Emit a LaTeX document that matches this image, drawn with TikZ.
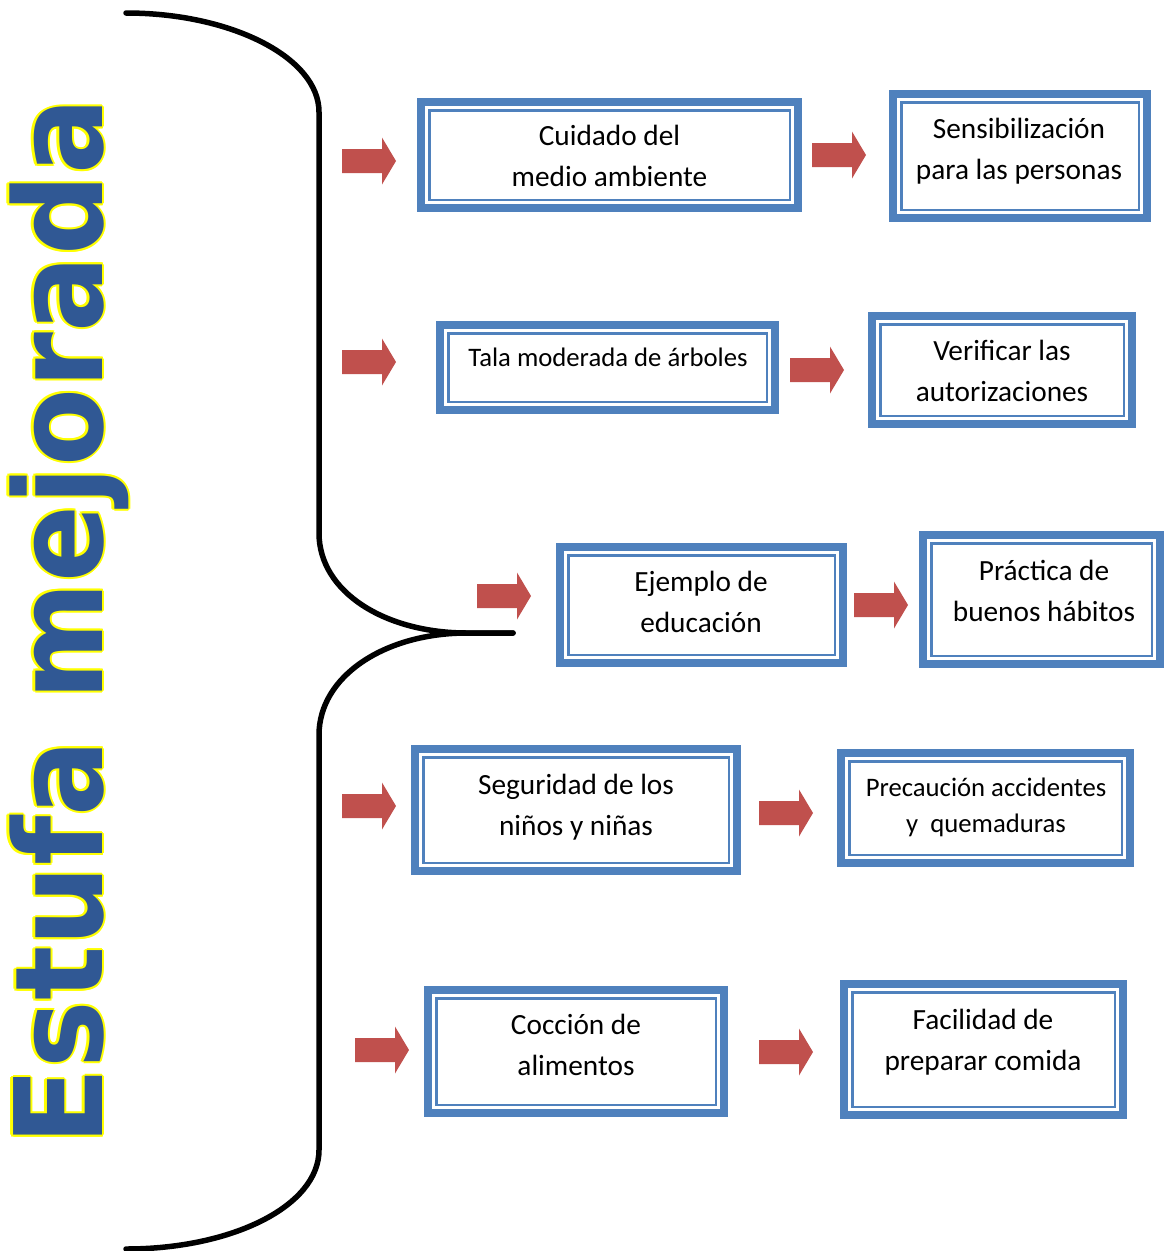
\documentclass[tikz,border=0pt]{standalone}
\usepackage{fontspec}
\setmainfont{Carlito}
\newfontfamily\titlefont{DejaVu Sans}
\usetikzlibrary{calc}
\definecolor{boxblue}{RGB}{79,129,189}
\definecolor{arrred}{RGB}{192,80,77}
\definecolor{ttlblue}{RGB}{48,88,148}
\definecolor{ttlyellow}{RGB}{255,255,0}
\tikzset{
  box/.style={draw=boxblue, line width=8pt, fill=white, inner sep=0pt,
    path picture={\draw[boxblue, line width=2.5pt]
      ([shift={(8.25pt,-8.25pt)}]path picture bounding box.north west) rectangle
      ([shift={(-8.25pt,8.25pt)}]path picture bounding box.south east);}},
  lbl/.style={align=center, inner sep=0pt, font=\fontsize{29.3}{41}\selectfont},
  lblsmall/.style={align=center, inner sep=0pt, font=\fontsize{26.7}{36}\selectfont},
  brace/.style={line width=5.5pt, line cap=round, line join=round},
  blockarr/.pic={\fill[arrred] (0,-12) -- (40,-12) -- (40,-23.5) -- (54,0) -- (40,23.5) -- (40,12) -- (0,12) -- cycle;},
  ttl/.style={rotate=90, anchor=base west, inner sep=0pt},
}
\newcommand{\ttltext}{\scalebox{0.93}[1]{\titlefont\bfseries\fontsize{122}{130}\selectfont Estufa mejorada}}
\begin{document}
\begin{tikzpicture}[x=1pt, y=-1pt]
\useasboundingbox (0,0) rectangle (1165,1251);

% title (vertical WordArt)
\foreach \dx/\dy [count=\i] in {2.1/0, -2.1/0, 0/2.1, 0/-2.1, 1.5/1.5, -1.5/1.5, 1.5/-1.5, -1.5/-1.5} {
  \node[ttl, text=ttlyellow] (ttlo\i) at (102+\dx,1146+\dy) {\ttltext};
}
\node[ttl, text=ttlblue] (title) at (102,1146) {\ttltext};

% brace
\draw[brace] (126,13) .. controls (232,13) and (319,58) .. (319,112)
  -- (319,533) .. controls (319,592) and (385,633) .. (467,633) -- (513,633);
\draw[brace] (513,633) -- (467,633) .. controls (385,633) and (319,676) .. (319,735)
  -- (319,1150) .. controls (319,1206) and (232,1249) .. (126,1249);

% boxes
\node[box, minimum width=377pt, minimum height=106pt] (b1) at (609.5,155) {};
\node[box, minimum width=254pt, minimum height=124pt] (c1) at (1020,156) {};
\node[box, minimum width=335pt, minimum height=85pt] (b2) at (607.5,367.5) {};
\node[box, minimum width=260pt, minimum height=108pt] (c2) at (1002,370) {};
\node[box, minimum width=283pt, minimum height=116pt] (b3) at (701.5,605) {};
\node[box, minimum width=237pt, minimum height=129pt] (c3) at (1041.5,599.5) {};
\node[box, minimum width=322pt, minimum height=122pt] (b4) at (576,810) {};
\node[box, minimum width=289pt, minimum height=110pt] (c4) at (985.5,808) {};
\node[box, minimum width=296pt, minimum height=123pt] (b5) at (576,1051.5) {};
\node[box, minimum width=279pt, minimum height=131pt] (c5) at (983.5,1049.5) {};

% texts
\node[lbl] (tb1) at (609.5,158) {\strut Cuidado del\\\strut medio ambiente};
\node[lbl] (tc1) at (1019,151) {\strut Sensibilización\\\strut para las personas};
\node[lblsmall] (tb2) at (608,359) {\strut Tala moderada de árboles};
\node[lbl] (tc2) at (1002,373) {\strut Verificar las\\\strut autorizaciones};
\node[lbl] (tb3) at (701,604) {\strut Ejemplo de\\\strut educación};
\node[lbl] (tc3) at (1044,593) {\strut Práctica de\\\strut buenos hábitos};
\node[lbl] (tb4) at (576,807) {\strut Seguridad de los\\\strut niños y niñas};
\node[lblsmall] (tc4) at (986,807) {\strut Precaución accidentes\\\strut y\ \ quemaduras};
\node[lbl] (tb5) at (576,1047) {\strut Cocción de\\\strut alimentos};
\node[lbl] (tc5) at (983,1042) {\strut Facilidad de\\\strut preparar comida};

% arrows
\pic at (342,161) {blockarr};
\pic at (342,362) {blockarr};
\pic at (477,596) {blockarr};
\pic at (342,806) {blockarr};
\pic at (355,1050) {blockarr};
\pic at (812,155) {blockarr};
\pic at (790,370) {blockarr};
\pic at (854,605) {blockarr};
\pic at (759,813) {blockarr};
\pic at (759,1052) {blockarr};
\end{tikzpicture}
\end{document}
